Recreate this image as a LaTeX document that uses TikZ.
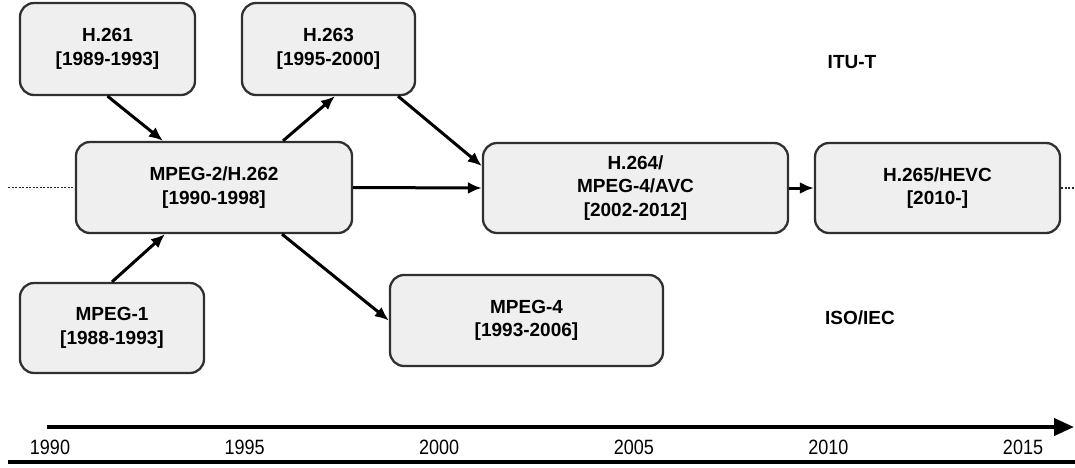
\documentclass[tikz,border=0pt]{standalone}
\usepackage{fontspec}
\setmainfont{Liberation Sans}
\usetikzlibrary{arrows.meta}
\definecolor{boxfill}{HTML}{EFEFEF}
\definecolor{boxline}{HTML}{303030}
\begin{document}
\begin{tikzpicture}[x=1pt,y=-1pt,
  stdbox/.style={draw=boxline, line width=2.3pt, fill=boxfill, rounded corners=14pt,
    align=center, inner sep=0pt, font=\bfseries\fontsize{19}{23.5}\selectfont},
  flow/.style={line width=3pt, -{Latex[length=14pt,width=12pt]}},
  trail/.style={line width=1.6pt, dash pattern=on 2pt off 1.5pt, black!85},
  yearlabel/.style={font=\fontsize{18}{20}\selectfont, yscale=1.15, inner sep=0pt},
  orglabel/.style={font=\bfseries\fontsize{19}{20}\selectfont, inner sep=0pt}]
\useasboundingbox (0,0) rectangle (1075,467);

% standards
\node[stdbox, minimum width=175pt, minimum height=92pt] (h261) at (107.5,49) {H.261\\{}[1989-1993]};
\node[stdbox, minimum width=173pt, minimum height=92pt] (h263) at (328.5,49) {H.263\\{}[1995-2000]};
\node[stdbox, minimum width=276pt, minimum height=91pt] (mpeg2) at (214,187.5) {MPEG-2/H.262\\{}[1990-1998]};
\node[stdbox, minimum width=305pt, minimum height=90pt] (h264) at (635.5,188) {H.264/\\MPEG-4/AVC\\{}[2002-2012]};
\node[stdbox, minimum width=245pt, minimum height=90pt] (h265) at (937.5,188) {H.265/HEVC\\{}[2010-]};
\node[stdbox, minimum width=184pt, minimum height=90pt] (mpeg1) at (112,328) {MPEG-1\\{}[1988-1993]};
\node[stdbox, minimum width=273pt, minimum height=91pt] (mpeg4) at (526.5,320.5) {\raisebox{5pt}{\begin{tabular}{@{}c@{}}MPEG-4\\{}[1993-2006]\end{tabular}}};

% organisations
\node[orglabel] (itu) at (852,62) {ITU-T};
\node[orglabel] (iso) at (860,318) {ISO/IEC};

% lineage
\draw[flow] (h261.south) -- ([xshift=-51pt]mpeg2.north);
\draw[flow] ([xshift=69pt]mpeg2.north) -- ([xshift=6.5pt]h263.south);
\draw[flow] ([xshift=69.5pt]h263.south) -- ([yshift=22pt]h264.west);
\draw[flow] (mpeg2.east) -- (h264.west);
\draw[flow] (h264.east) -- (h265.west);
\draw[flow] (mpeg1.north) -- ([xshift=-49pt]mpeg2.south);
\draw[flow] ([xshift=68pt]mpeg2.south) -- (mpeg4.west);

% continuation beyond the chain
\coordinate (lefttrail) at (8,187.5);
\coordinate (righttrail) at (1075,188);
\draw[trail] (lefttrail) -- (mpeg2.west);
\draw[trail] (h265.east) -- (righttrail);

% time axis
\coordinate (axstart) at (47,427);
\coordinate (axend) at (1074,427);
\draw[line width=4pt, -{Triangle[length=20pt,width=17pt]}] (axstart) -- (axend);
\foreach \yr [count=\i from 0] in {1990,1995,2000,2005,2010,2015}
  \node[yearlabel] (y\yr) at (50+194.6*\i,447) {\yr};
\coordinate (rulestart) at (8,462);
\coordinate (ruleend) at (1075,462);
\draw[line width=3.5pt] (rulestart) -- (ruleend);
\end{tikzpicture}
\end{document}
